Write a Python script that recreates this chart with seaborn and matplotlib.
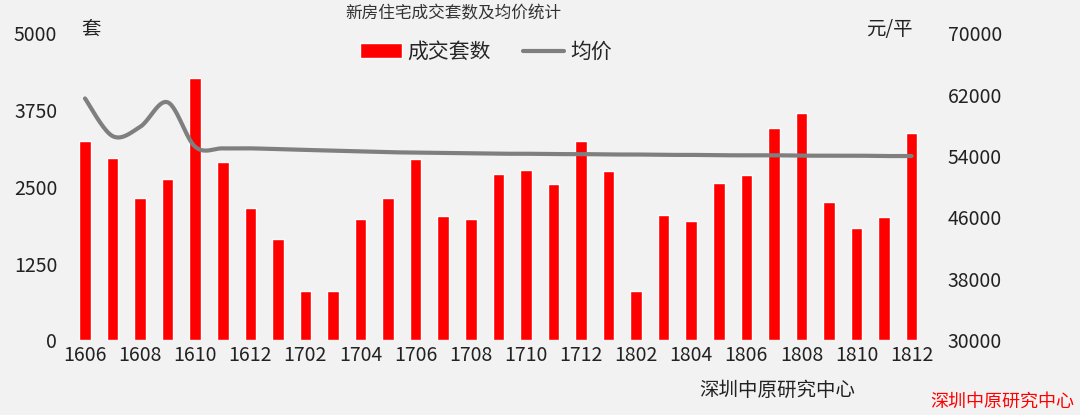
import matplotlib
matplotlib.use("Agg")
import matplotlib.pyplot as plt
import seaborn as sns
import numpy as np
import pandas as pd

sns.set_theme(style="white")
plt.rcParams['font.family'] = ['Noto Sans CJK SC', 'DejaVu Sans']

months = ["1606","1607","1608","1609","1610","1611","1612",
          "1701","1702","1703","1704","1705","1706","1707","1708","1709","1710","1711","1712",
          "1801","1802","1803","1804","1805","1806","1807","1808","1809","1810","1811","1812"]
volume = [3250,2970,2320,2620,4270,2900,2160,1650,800,800,1980,2320,2950,2020,1980,2710,2780,2550,3250,
          2760,800,2040,1950,2560,2690,3460,3700,2250,1830,2000,3370]
price = [61500,56600,57800,61000,55200,55000,55000,54900,54800,54700,54600,54500,54450,54400,54350,54300,
         54300,54250,54250,54200,54200,54150,54150,54100,54100,54100,54050,54050,54050,54000,54000]
tick_labels = months[::2]

df = pd.DataFrame({"month": months, "volume": volume, "price": price})

fig = plt.figure(figsize=(10.8, 4.15), dpi=100)
fig.patch.set_facecolor("#f2f2f2")
ax = fig.add_axes([0.0634, 0.18, 0.796, 0.74])
ax.set_facecolor("none")
sns.barplot(data=df, x="month", y="volume", color="#ff0000", saturation=1, width=0.42, ax=ax, label="成交套数")
ax.set_ylim(0, 5000)
ax.set_yticks([0,1250,2500,3750,5000])
ax.set_xticks(range(0, len(months), 2))
ax.set_xticklabels(tick_labels)
ax.set_xlabel(""); ax.set_ylabel("")
ax.tick_params(axis="both", labelsize=14, colors="#222222", length=0)
ax.tick_params(axis="y", pad=8)
ax.set_xlim(-0.6, len(months)-0.4)
for s in ax.spines.values(): s.set_visible(False)

ax2 = ax.twinx()
x = np.arange(len(months))
def catmull(xp, yp, n=20):
    pts = []
    P = list(zip(xp, yp))
    P = [P[0]] + P + [P[-1]]
    for i in range(1, len(P)-2):
        p0,p1,p2,p3 = map(np.array, P[i-1:i+3])
        for t in np.linspace(0,1,n,endpoint=False):
            pts.append(0.5*((2*p1)+(-p0+p2)*t+(2*p0-5*p1+4*p2-p3)*t*t+(-p0+3*p1-3*p2+p3)*t**3))
    pts.append(np.array(P[-2]))
    return np.array(pts)
c = catmull(x, price)
sns.lineplot(x=c[:,0], y=c[:,1], color="#7f7f7f", lw=3, ax=ax2, label="均价", sort=False)
ax2.set_ylim(30000, 70000)
ax2.set_yticks(range(30000, 70001, 8000))
ax2.tick_params(axis="y", labelsize=14, colors="#222222", length=0, pad=14)
ax2.set_xlim(-0.6, len(months)-0.4)
for s in ax2.spines.values(): s.set_visible(False)
ax2.get_legend().remove()

h1, l1 = ax.get_legend_handles_labels()
h2, l2 = ax2.get_legend_handles_labels()
if ax.get_legend(): ax.get_legend().remove()
fig.legend(h1+h2, l1+l2, loc="center", bbox_to_anchor=(0.45, 0.875), ncol=2, frameon=False,
           fontsize=15, handlelength=2.0, handletextpad=0.3, columnspacing=1.5)

fig.text(0.42, 0.955, "新房住宅成交套数及均价统计", ha="center", fontsize=12, color="#333333")
fig.text(0.075, 0.915, "套", fontsize=14, color="#222222")
fig.text(0.802, 0.915, "元/平", fontsize=14, color="#222222")
fig.text(0.72, 0.045, "深圳中原研究中心", ha="center", fontsize=14, color="#222222")
fig.text(0.995, 0.02, "深圳中原研究中心", ha="right", fontsize=13, color="#ff0000")
fig.savefig("out.png", dpi=100, facecolor=fig.get_facecolor())
